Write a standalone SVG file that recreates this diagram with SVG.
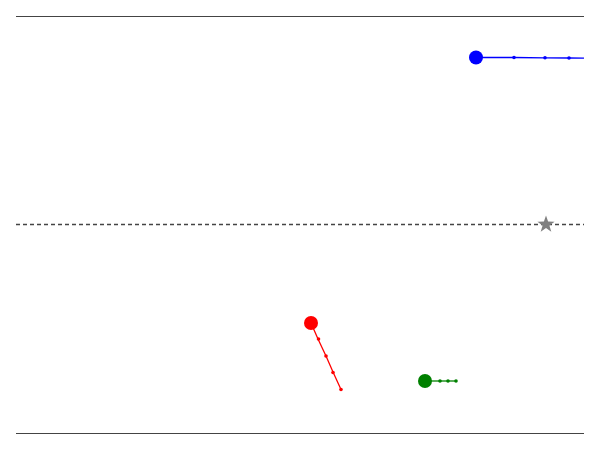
<svg xmlns="http://www.w3.org/2000/svg" width="600" height="450" viewBox="0 0 600 450">
<style>
.frame{stroke:#444;stroke-width:1.2;fill:none}
.dash{stroke:#444;stroke-width:1.5;stroke-dasharray:4,3;fill:none}
</style>
<rect width="600" height="450" fill="#fff"/>
<line class="frame" x1="16" y1="16.5" x2="584" y2="16.5"/>
<line class="frame" x1="16" y1="433.5" x2="584" y2="433.5"/>
<line class="dash" x1="16" y1="224.5" x2="584" y2="224.5"/>
<g id="connectors">
<polyline points="476,57.5 514,57.5 545,57.8 569,58 584,58.2" fill="none" stroke="#0000ff" stroke-width="1.3"/>
<polyline points="311,323 318,339 326,356 333,372 341,389.5" fill="none" stroke="#ff0000" stroke-width="1.3"/>
<polyline points="425,381 440,381 448,381 456,381" fill="none" stroke="#008000" stroke-width="1.3"/>
</g>
<g id="blue" fill="#0000ff">
<circle cx="476" cy="57.5" r="7"/>
<circle cx="514" cy="57.5" r="1.8"/>
<circle cx="545" cy="57.8" r="1.8"/>
<circle cx="569" cy="58" r="1.8"/>
</g>
<g id="red" fill="#ff0000">
<circle cx="311" cy="323" r="7"/>
<circle cx="318.5" cy="339" r="1.8"/>
<circle cx="326" cy="356" r="1.8"/>
<circle cx="333" cy="372.5" r="1.8"/>
<circle cx="341" cy="389.5" r="1.8"/>
</g>
<g id="green" fill="#008000">
<circle cx="425" cy="381" r="7"/>
<circle cx="440" cy="381" r="1.8"/>
<circle cx="448" cy="381" r="1.8"/>
<circle cx="456" cy="381" r="1.8"/>
</g>
<g id="star">
<polygon fill="#808080" points="546,215.5 548.1,221.6 554.6,221.7 549.4,225.6 551.3,231.8 546,228.1 540.7,231.8 542.6,225.6 537.4,221.7 543.9,221.6"/>
</g>
</svg>
